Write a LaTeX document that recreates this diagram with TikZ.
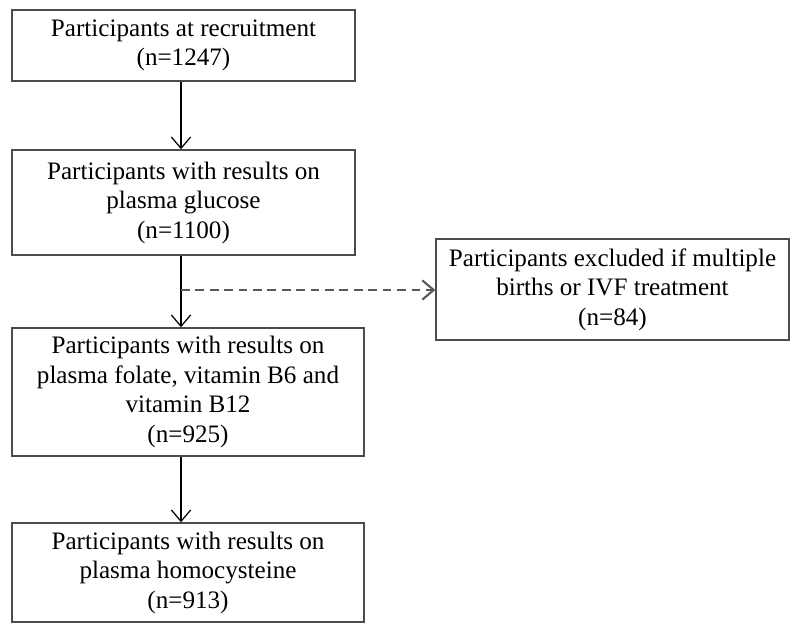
\documentclass[tikz,border=0pt]{standalone}
\usepackage{fontspec}
\setmainfont{Liberation Serif}
\usetikzlibrary{arrows.meta}
\tikzset{
  flowbox/.style={draw=black!70,line width=0.8pt,align=center,inner sep=2pt,
    font=\fontsize{14.3}{16.8}\selectfont},
  flowarrow/.style={-{Straight Barb[length=6.5pt,width=11pt]},line width=0.7pt,black},
  exclarrow/.style={-{Straight Barb[length=6.5pt,width=11pt]},line width=1.2pt,
    black!65,dash pattern=on 5pt off 3.2pt}
}
\begin{document}
\begin{tikzpicture}[x=0.02cm,y=-0.02cm]
	\useasboundingbox (0,0) rectangle (800,635);
	
	\node[flowbox,minimum width=6.86cm,minimum height=1.42cm] (recruit) at (183.5,45.5)
	{Participants at recruitment\\(n=1247)};
	\node[flowbox,minimum width=6.86cm,minimum height=2.1cm] (glucose) at (183.5,202.5)
	{Participants with results on\\plasma glucose\\(n=1100)};
	\node[flowbox,minimum width=7.04cm,minimum height=2.56cm] (vitamin) at (188,392)
	{Participants with results on\\plasma folate, vitamin B6 and\\vitamin B12\\(n=925)};
	\node[flowbox,minimum width=7.04cm,minimum height=1.98cm] (homocys) at (188,572.5)
	{Participants with results on\\plasma homocysteine\\(n=913)};
	\node[flowbox,minimum width=7.06cm,minimum height=2.02cm] (excluded) at (612.5,289.5)
	{Participants excluded if multiple\\births or IVF treatment\\(n=84)};
	
	\coordinate (split) at (181,290);
	
	\draw[flowarrow] (recruit.south -| split) -- (glucose.north -| split);
	\draw[flowarrow] (glucose.south -| split) -- (vitamin.north -| split);
	\draw[flowarrow] (vitamin.south -| split) -- (homocys.north -| split);
	\draw[exclarrow] (split) -- (split -| excluded.west);
\end{tikzpicture}
\end{document}
